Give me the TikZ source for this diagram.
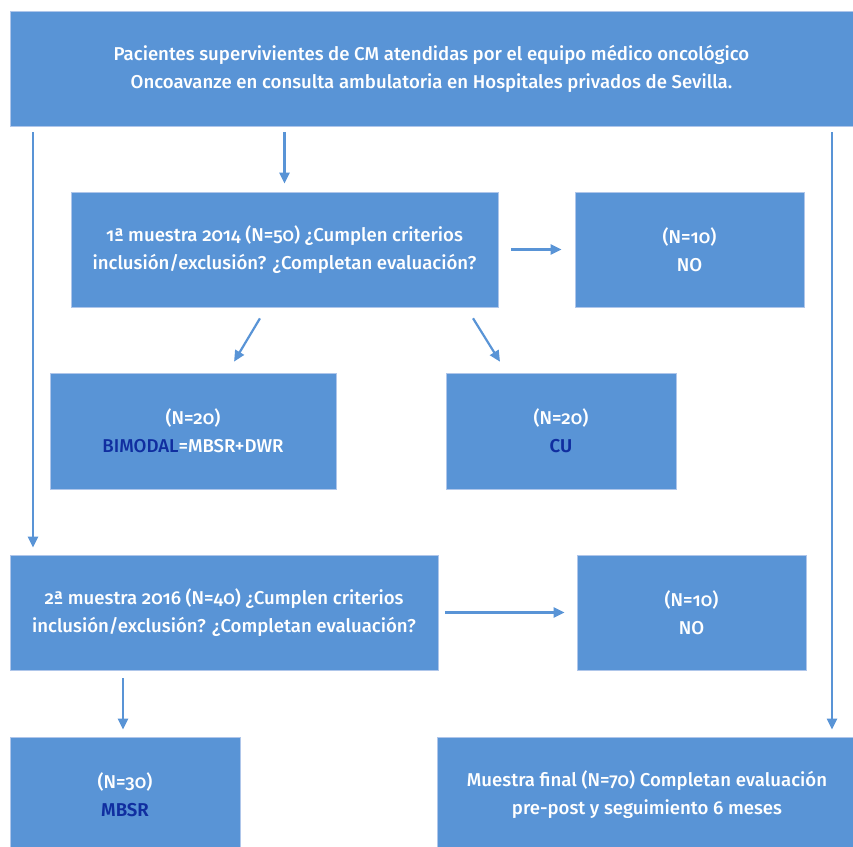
\documentclass[tikz,border=0pt]{standalone}
\usepackage{fontspec}
\setmainfont{Fira Sans}[Numbers=OldStyle, UprightFont=* Medium, BoldFont=* SemiBold]
\usepackage{tikz}
\usetikzlibrary{positioning,arrows.meta}
\definecolor{azulcaja}{RGB}{89,148,214}
\definecolor{bordecaja}{RGB}{175,198,234}
\definecolor{azuloscuro}{RGB}{16,46,160}

\begin{document}
\begin{tikzpicture}[x=1pt, y=-1pt,
  caja/.style={draw=bordecaja, line width=0.8pt, fill=azulcaja, text=white,
    align=center, inner sep=0pt, minimum height=115pt,
    font=\fontsize{18.6}{28}\selectfont},
  flecha/.style={-{Triangle[length=11pt,width=10pt]}, line width=2.2pt, draw=azulcaja}
]
\useasboundingbox (0,0) rectangle (853,846);
\clip (0,0) rectangle (853,846);
\node[caja, minimum width=843pt] (pac) at (431.5,68.5)
  {Pacientes supervivientes de CM atendidas por el equipo médico oncológico\\
   Oncoavanze en consulta ambulatoria en Hospitales privados de Sevilla.};
\node[caja, minimum width=427pt] (m1) at (284.5,249.5)
  {1ª muestra 2014 (N=50) ¿Cumplen criterios\\
   inclusión/exclusión? ¿Completan evaluación?};
\node[caja, minimum width=229pt] (no1) at (689.5,249.5) {(N=10)\\NO};
\node[caja, minimum width=286pt, minimum height=116pt] (bim) at (193,431)
  {(N=20)\\{\color{azuloscuro}BIMODAL}=MBSR+DWR};
\node[caja, minimum width=230pt, minimum height=116pt] (cu) at (561,431)
  {(N=20)\\{\color{azuloscuro}\bfseries CU}};
\node[caja, minimum width=428pt] (m2) at (224,612.5)
  {2ª muestra 2016 (N=40) ¿Cumplen criterios\\
   inclusión/exclusión? ¿Completan evaluación?};
\node[caja, minimum width=229pt] (no2) at (691.5,612.5) {(N=10)\\NO};
\node[caja, minimum width=230pt] (mbsr) at (125,794.5)
  {(N=30)\\{\color{azuloscuro}\bfseries MBSR}};
\node[caja, minimum width=420pt] (fin) at (647,794.5)
  {Muestra final (N=70) Completan evaluación\\
   pre-post y seguimiento 6 meses};
\coordinate (izq) at (33,0);
\coordinate (der) at (832,0);
\draw[flecha, shorten <=6pt, shorten >=7pt] (pac.south -| izq) -- (m2.north -| izq);
\draw[flecha, shorten <=6pt, shorten >=8pt] (pac.south -| m1.north) -- (m1.north);
\draw[flecha, shorten <=6pt, shorten >=7pt] (pac.south -| der) -- (fin.north -| der);
\draw[flecha, shorten <=13pt, shorten >=13pt] (m1) -- (no1);
\draw[flecha, shorten <=12.8pt, shorten >=12.8pt] ([xshift=-18pt]m1.south) -- ([xshift=34.5pt]bim.north);
\draw[flecha, shorten <=12.8pt, shorten >=12.8pt] ([xshift=181.75pt]m1.south) -- ([xshift=-54.25pt]cu.north);
\draw[flecha, shorten <=7pt, shorten >=12pt] (m2.east) -- (m2.east -| no2.west);
\draw[flecha, shorten <=8pt, shorten >=7pt] ([xshift=-2pt]m2.south -| mbsr.north) -- ([xshift=-2pt]mbsr.north);
\end{tikzpicture}
\end{document}
